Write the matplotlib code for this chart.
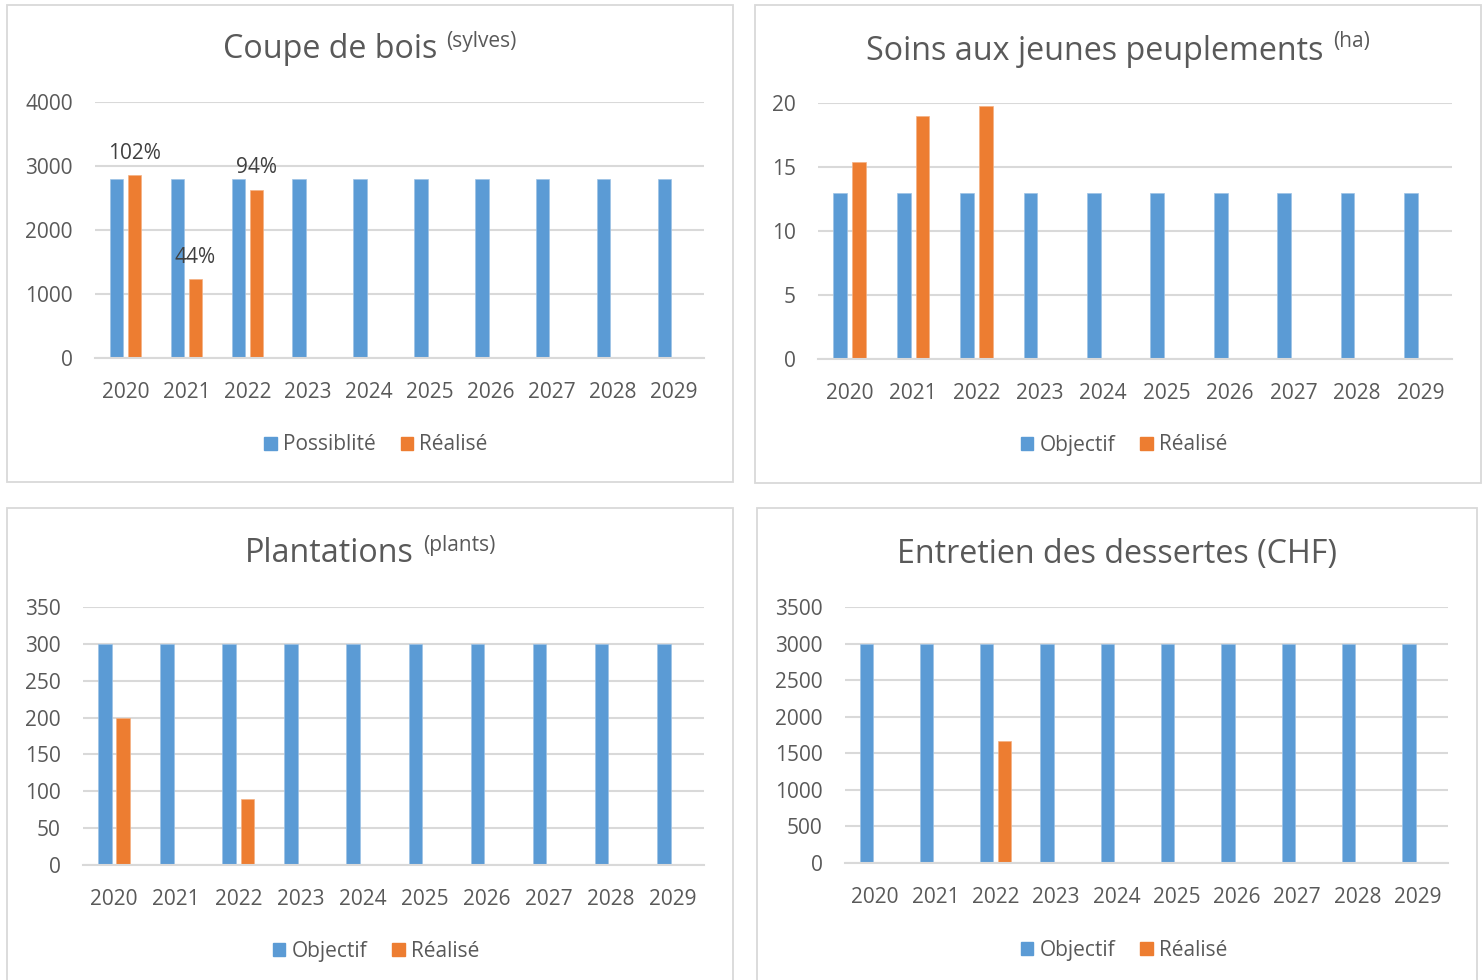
import numpy as np
import matplotlib.pyplot as plt
from matplotlib.patches import Patch, Rectangle

plt.rcParams["font.family"] = ["Open Sans", "DejaVu Sans"]

BLUE = "#5B9BD5"
ORANGE = "#ED7D31"
GREY_TXT = "#595959"
GRID = "#D9D9D9"

years = ["2020", "2021", "2022", "2023", "2024", "2025", "2026", "2027", "2028", "2029"]

# Coupe de bois (sylves)
coupe_possib = [2800] * 10
coupe_real = [2856, 1232, 2632] + [np.nan] * 7
coupe_labels = ["102%", "44%", "94%"]

# Soins aux jeunes peuplements (ha)
soins_obj = [13] * 10
soins_real = [15.4, 19.0, 19.8] + [np.nan] * 7

# Plantations (plants)
plant_obj = [300] * 10
plant_real = [200, np.nan, 90] + [np.nan] * 7

# Entretien des dessertes (CHF)
entr_obj = [3000] * 10
entr_real = [np.nan, np.nan, 1670] + [np.nan] * 7

W, H = 1484, 980
fig = plt.figure(figsize=(W / 100, H / 100), dpi=100)


def fx(px):
    return px / W


def fy(py):
    return 1 - py / H


# panel frames
for x0, y0, x1, y1 in [(7, 5, 733, 482), (755, 5, 1481, 483),
                       (7, 508, 733, 990), (757, 508, 1477, 990)]:
    fig.patches.append(Rectangle((fx(x0), fy(y1)), fx(x1 - x0), (y1 - y0) / H,
                                 transform=fig.transFigure, fill=False,
                                 edgecolor=GRID, lw=1.3))


def panel(box, series, labels, ylim, step, title, sup, title_y, leg_y, cx,
          data_labels=None):
    left, top, right, bottom = box
    ax = fig.add_axes([fx(left), fy(bottom), fx(right - left), (bottom - top) / H])
    x = np.arange(len(years))
    w, off = 0.22, 0.148
    ax.bar(x - off, series[0], w, color=BLUE, edgecolor="#9DC3E6", lw=0.5)
    bars = ax.bar(x + off, series[1], w, color=ORANGE, edgecolor="#F4B183", lw=0.5)
    if data_labels:
        for b, lab in zip(bars, data_labels):
            ax.annotate(lab, (b.get_x() + b.get_width() / 2, b.get_height()),
                        xytext=(0, 8), textcoords="offset points",
                        ha="center", va="bottom", fontsize=15, color="#404040")
    ax.set_xlim(-0.5, len(years) - 0.5)
    ax.set_ylim(0, ylim)
    ax.set_yticks(np.arange(0, ylim + step / 2, step))
    ax.set_xticks(x, years)
    ax.yaxis.grid(True, color=GRID, lw=1.5)
    ax.set_axisbelow(True)
    for s in ["top", "right", "left"]:
        ax.spines[s].set_visible(False)
    ax.spines["bottom"].set_color(GRID)
    ax.spines["bottom"].set_linewidth(1.5)
    ax.tick_params(length=0, labelsize=15, colors=GREY_TXT)
    ax.tick_params(axis="y", pad=16)
    ax.tick_params(axis="x", pad=17.5)

    leg = fig.legend(handles=[Patch(color=BLUE, label=labels[0]),
                              Patch(color=ORANGE, label=labels[1])],
                     loc="center", bbox_to_anchor=(fx(cx + 2), fy(leg_y)), ncol=2,
                     frameon=False, fontsize=15, handlelength=0.6, handleheight=0.6,
                     handletextpad=0.3, columnspacing=1.2)
    for t in leg.get_texts():
        t.set_color(GREY_TXT)

    t_main = fig.text(0, fy(title_y), title, ha="left", va="center",
                      fontsize=23.2, color=GREY_TXT)
    parts = [t_main]
    if sup:
        t_sup = fig.text(0, fy(title_y - 9), sup, ha="left", va="center",
                         fontsize=15, color=GREY_TXT)
        parts.append(t_sup)
    return parts


titles = []
titles.append(panel((95, 102, 704, 358), (coupe_possib, coupe_real), ("Possiblité", "Réalisé"),
                    4000, 1000, "Coupe de bois", "(sylves)", 50, 445, 374,
                    data_labels=coupe_labels))
titles.append(panel((818, 103, 1452, 359), (soins_obj, soins_real), ("Objectif", "Réalisé"),
                    20, 5, "Soins aux jeunes peuplements", "(ha)", 51, 445, 1122))
titles.append(panel((83, 607, 704, 865), (plant_obj, plant_real), ("Objectif", "Réalisé"),
                    350, 50, "Plantations", "(plants)", 554, 951, 374))
titles.append(panel((845, 607, 1448, 863), (entr_obj, entr_real), ("Objectif", "Réalisé"),
                    3500, 500, "Entretien des dessertes (CHF)", None, 555, 950, 1122))

# centre each title (main text + superscript) over its panel
fig.canvas.draw()
r = fig.canvas.get_renderer()
for parts, cx in zip(titles, [370, 1118, 370, 1117]):
    widths = [p.get_window_extent(r).width for p in parts]
    gap = 9 if len(parts) > 1 else 0
    x0 = cx - (sum(widths) + gap) / 2
    parts[0].set_x(fx(x0))
    if len(parts) > 1:
        parts[1].set_x(fx(x0 + widths[0] + gap))

fig.savefig("out.png", dpi=100)
